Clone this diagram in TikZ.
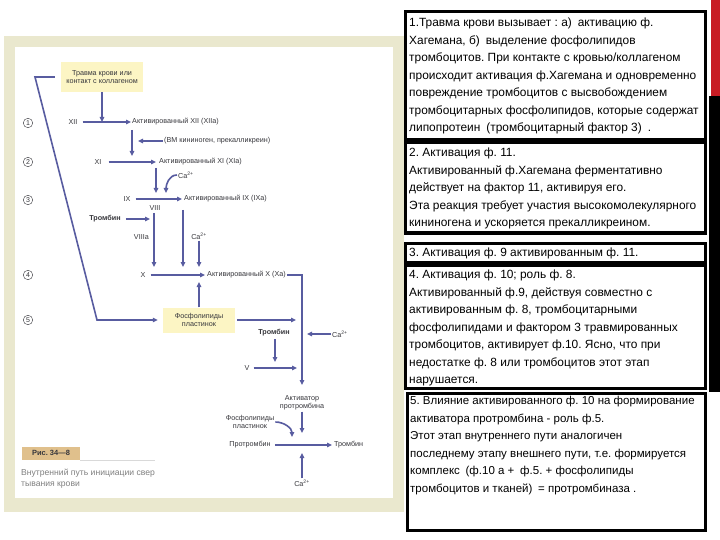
\documentclass[tikz,border=0pt]{standalone}
\usepackage{fontspec}
\setmainfont{Liberation Sans}
\usepackage{tikz}
\usetikzlibrary{arrows.meta,calc,positioning}
\definecolor{arw}{RGB}{88,92,160}
\definecolor{note}{RGB}{252,245,196}
\definecolor{frm}{RGB}{234,232,206}
\definecolor{figtan}{RGB}{224,192,140}
\definecolor{ink}{RGB}{55,55,60}
\definecolor{stripred}{RGB}{200,28,36}
\newcommand{\caion}{Ca\textsuperscript{2+}}
\frenchspacing

\begin{document}
\begin{tikzpicture}[x=1pt,y=-1pt,>={Triangle[length=5pt,width=4.5pt]},
  flow/.style={->,arw,line width=1.6pt},
  lbl/.style={font=\fontsize{7.2}{8.3}\selectfont,text=ink,inner sep=1pt,align=center},
  numc/.style={circle,draw=ink,thin,inner sep=0pt,minimum size=9.5pt,font=\fontsize{7}{7}\selectfont,text=ink},
  ybox/.style={lbl,fill=note,inner sep=2pt},
  txtbox/.style={draw=black,line width=3pt,fill=white},
  txt/.style={anchor=north west,inner sep=0pt,align=left,font=\fontsize{11.9}{17.5}\selectfont}]
  \useasboundingbox (0,0) rectangle (720,540);
  \fill[white] (0,0) rectangle (720,540);
  % scanned figure on the left
  \fill[frm] (4,36) rectangle (404,512);
  \fill[white] (15,47) rectangle (393,498);
  \fill[stripred] (711,0) rectangle (720,96);
  \fill[black] (709,96) rectangle (720,392);

  \foreach \n/\y in {1/123,2/162,3/200,4/275,5/320}
    \node[numc] (num\n) at (28,\y) {\n};

  \node[ybox,minimum width=82pt,minimum height=30pt] (trauma) at (102,77) {Травма крови или\\контакт с коллагеном};
  \node[lbl] (xii) at (73,122) {XII};
  \node[lbl,anchor=west] (xiia) at (131,122) {Активированный XII (XIIa)};
  \node[lbl,anchor=west] (bm) at (163,141) {(ВМ кининоген, прекалликреин)};
  \node[lbl] (xi) at (98,162) {XI};
  \node[lbl,anchor=west] (xia) at (158,162) {Активированный XI (XIa)};
  \node[lbl,anchor=west] (ca1) at (177,175) {\caion};
  \node[lbl] (ix) at (127,199) {IX};
  \node[lbl,anchor=west] (ixa) at (183,199) {Активированный IX (IXa)};
  \node[lbl] (viii) at (155,208) {VIII};
  \node[lbl,font=\fontsize{7.2}{8.3}\selectfont\bfseries] (thr1) at (105,219) {Тромбин};
  \node[lbl,anchor=east] (viiia) at (150,237) {VIIIa};
  \node[lbl] (ca2) at (199,236) {\caion};
  \node[lbl] (x) at (143,275) {X};
  \node[lbl,anchor=west] (xa) at (206,275) {Активированный X (Xa)};
  \node[ybox,minimum width=72pt,minimum height=25pt] (phos) at (199,320) {Фосфолипиды\\пластинок};
  \node[lbl,font=\fontsize{7.2}{8.3}\selectfont\bfseries] (thr2) at (274,333) {Тромбин};
  \node[lbl,anchor=west] (ca3) at (331,334) {\caion};
  \node[lbl] (v) at (247,368) {V};
  \node[lbl] (act) at (302,403) {Активатор\\протромбина};
  \node[lbl] (phos2) at (250,422) {Фосфолипиды\\пластинок};
  \node[lbl] (proth) at (250,445) {Протромбин};
  \node[lbl,anchor=west] (thr3) at (333,445) {Тромбин};
  \node[lbl] (ca4) at (302,483) {\caion};

  \coordinate (c1) at (35,77);
  \coordinate (c2) at (97,320);
  \coordinate (c3) at (302,275);
  \draw[flow] ($(trauma.west)+(-6,0)$) -- (c1) -- (c2) -- ($(phos.west)+(-5,0)$);
  \draw[flow] (trauma.south) -- (trauma.south |- xii);
  \draw[flow,shorten <=4pt] (xii.east) -- (xiia.west);
  \draw[flow] (132,130) -- (132,156);
  \draw[flow] (bm.west) -- (138,141);
  \draw[flow,shorten <=6pt,shorten >=2pt] (xi.east) -- (xia.west);
  \draw[flow] (156,168) -- (156,193);
  \draw[flow] (ca1.west) to[out=180,in=90] (166,193);
  \draw[flow,shorten <=4pt,shorten >=1pt] (ix.east) -- (ixa.west);
  \draw[flow,shorten <=4pt] (thr1.east) -- (150,219);
  \draw[flow] (154,213) -- (154,267);
  \draw[flow] (183,210) -- (183,267);
  \draw[flow] (ca2.south) -- (199,267);
  \draw[flow,shorten <=4pt,shorten >=1pt] (x.east) -- (xa.west);
  \draw[flow] (phos.north) -- (199,282);
  \draw[flow] (xa.east) -- (c3) -- (302,385);
  \draw[flow,shorten <=2pt] (phos.east) -- (296,320);
  \draw[flow] (ca3.west) -- (307,334);
  \draw[flow] (275,339) -- (275,362);
  \draw[flow,shorten <=3pt] (v.east) -- (297,368);
  \draw[flow] (act.south) -- (302,433);
  \draw[flow] (phos2.east) to[out=0,in=90] (292,437);
  \draw[flow,shorten <=3pt,shorten >=1pt] (proth.east) -- (thr3.west);
  \draw[flow] (ca4.north) -- (302,453);

  \node[fill=figtan,minimum width=58pt,minimum height=13pt,inner sep=0pt,font=\fontsize{7.5}{8}\selectfont\bfseries,text=ink] (fig) at (51,453) {Рис. 34—8};
  \draw[gray!30,thin] (fig.south east) -- ++(75,0);
  \node[anchor=north west,inner sep=0pt,align=left,text=gray,font=\fontsize{8.6}{11}\selectfont] (cap) at (21,469) {Внутренний путь инициации свер\\тывания крови};

  % text boxes on the right
  \draw[txtbox] (405,12) rectangle (705,140);
  \node[txt] (t1) at (409,18) {1.Травма крови вызывает : а)\enspace активацию ф.\\Хагемана, б)\enspace выделение фосфолипидов\\тромбоцитов. При контакте с кровью/коллагеном\\происходит активация ф.Хагемана и одновременно\\повреждение тромбоцитов с высвобождением\\тромбоцитарных фосфолипидов, которые содержат\\липопротеин\enspace (тромбоцитарный фактор 3)\enspace .};
  \draw[txtbox] (405,143) rectangle (705,233);
  \node[txt] (t2) at (409,148) {2. Активация ф. 11.\\Активированный ф.Хагемана ферментативно\\действует на фактор 11, активируя его.\\Эта реакция требует участия высокомолекулярного\\кининогена и ускоряется прекалликреином.};
  \draw[txtbox] (405,243) rectangle (705,262);
  \node[txt] (t3) at (409,248) {3. Активация ф. 9 активированным ф. 11.};
  \draw[txtbox] (405,265) rectangle (705,388);
  \node[txt] (t4) at (409,270) {4. Активация ф. 10; роль ф. 8.\\Активированный ф.9, действуя совместно с\\активированным ф. 8, тромбоцитарными\\фосфолипидами и фактором 3 травмированных\\тромбоцитов, активирует ф.10. Ясно, что при\\недостатке ф. 8 или тромбоцитов этот этап\\нарушается.};
  \draw[txtbox] (407,393) rectangle (705,530);
  \node[txt,font=\fontsize{11.5}{17.5}\selectfont] (t5) at (410,396) {5. Влияние активированного ф. 10 на формирование\\активатора протромбина - роль ф.5.\\Этот этап внутреннего пути аналогичен\\последнему этапу внешнего пути, т.е. формируется\\комплекс\enspace (ф.10 а +\enspace ф.5. + фосфолипиды\\тромбоцитов и тканей)\enspace = протромбиназа .};
\end{tikzpicture}
\end{document}
